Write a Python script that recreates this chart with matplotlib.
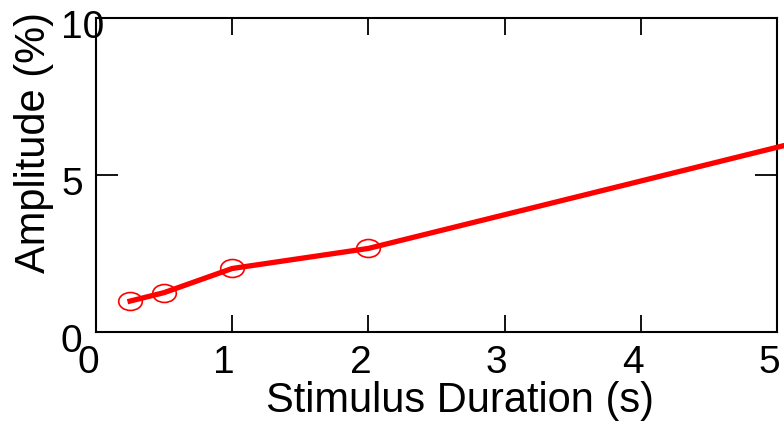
import matplotlib
matplotlib.use("Agg")
import matplotlib.pyplot as plt
import matplotlib.transforms as mtransforms
from matplotlib.path import Path

# stimulus duration (s) vs response amplitude (%)
duration = [0.25, 0.5, 1.0, 2.0, 8.0]
amplitude = [0.97, 1.24, 2.01, 2.65, 9.1]

xticks = [0, 1, 2, 3, 4, 5]
yticks = [0, 5, 10]

plt.rcParams["font.family"] = ["Liberation Sans", "DejaVu Sans"]

# slightly flattened open circle, like the original markers
circ = Path.unit_circle()
ellipse = Path(circ.vertices * [1.0, 0.76], circ.codes)

fig = plt.figure(figsize=(7.84, 4.22), dpi=100)
ax = fig.add_axes([96 / 784, 1 - 331.5 / 422, 681 / 784, 313.5 / 422])

ax.plot(duration, amplitude, color="red", lw=3.8, clip_on=False, zorder=3)
ax.plot(duration[:-1], amplitude[:-1], marker=ellipse, ls="none", ms=17, mfc="none",
        mec="red", mew=1.2, clip_on=False, zorder=4)

ax.set_xlim(0, 5)
ax.set_ylim(0, 10)
ax.set_xticks(xticks)
ax.set_yticks(yticks)
ax.tick_params(direction="in", width=1.3, labelsize=28, top=True, right=True)
ax.tick_params(axis="x", length=12, pad=10)
ax.tick_params(axis="y", length=16, pad=0)
for s in ax.spines.values():
    s.set_linewidth(1.5)

# label offsets as in the original export
offx = mtransforms.ScaledTranslation(-8 / 100, 0, fig.dpi_scale_trans)
for lab in ax.get_xticklabels():
    lab.set_transform(lab.get_transform() + offx)
offy = mtransforms.ScaledTranslation(-35 / 100, -6 / 100, fig.dpi_scale_trans)
for lab in ax.get_yticklabels():
    lab.set_ha("left")
    lab.set_transform(lab.get_transform() + offy)

ax.set_xlabel("Stimulus Duration (s)", fontsize=30, labelpad=0)
ax.xaxis.label.set_x(0.535)
ax.set_ylabel("Amplitude (%)", fontsize=30)
ax.yaxis.set_label_coords(-0.062, 0.603)

fig.savefig("out.png", dpi=100, facecolor="white")
